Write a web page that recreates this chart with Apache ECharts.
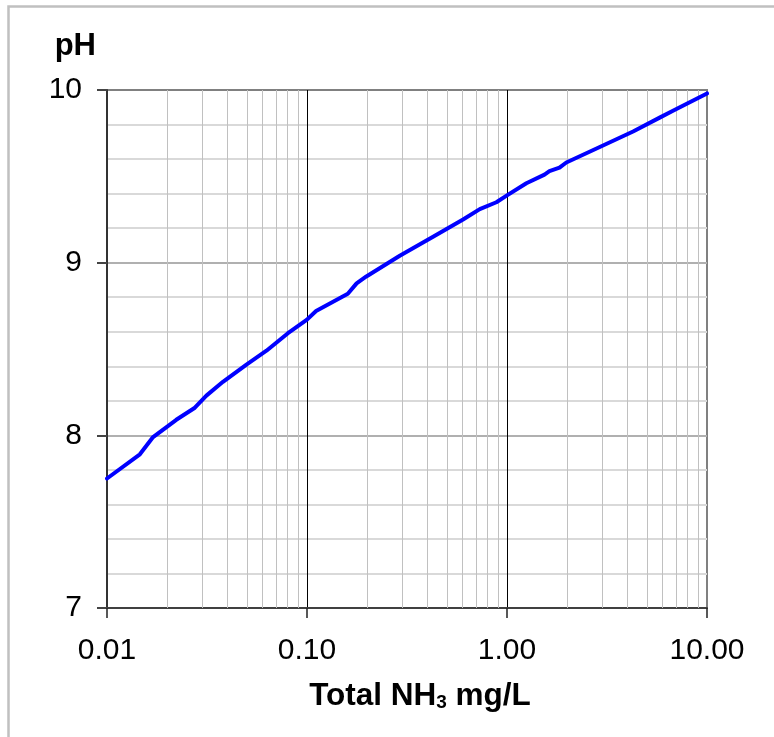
<!DOCTYPE html>
<html>
<head>
<meta charset="utf-8">
<script src="https://cdn.jsdelivr.net/npm/echarts@6/dist/echarts.min.js"></script>
<style>
html,body{margin:0;padding:0;background:#fff;}
#chart{width:774px;height:737px;}
</style>
</head>
<body>
<div id="chart"></div>
<script>
// Total NH3 (mg/L) values
var nh3 = [0.01, 0.0146, 0.017, 0.0222, 0.0275, 0.0314, 0.038, 0.0498, 0.0627, 0.08, 0.1, 0.111, 0.16, 0.177, 0.198, 0.291, 0.427, 0.603, 0.731, 0.885, 1.0, 1.25, 1.54, 1.63, 1.83, 1.98, 2.91, 4.27, 5.8, 6.76, 10];
// pH values
var ph = [7.75, 7.89, 7.99, 8.09, 8.16, 8.23, 8.31, 8.41, 8.49, 8.59, 8.67, 8.72, 8.82, 8.88, 8.92, 9.04, 9.15, 9.25, 9.31, 9.35, 9.39, 9.46, 9.51, 9.53, 9.55, 9.58, 9.67, 9.76, 9.84, 9.88, 9.98];
// minor vertical gridline positions on the log axis
var minorX = [0.02, 0.03, 0.04, 0.05, 0.06, 0.07, 0.08, 0.09,
              0.2, 0.3, 0.4, 0.5, 0.6, 0.7, 0.8, 0.9,
              2, 3, 4, 5, 6, 7, 8, 9];
var xMin = 0.01, xMax = 10;
var yMin = 7, yMax = 10, yInterval = 1;

var FONT = '"Liberation Sans", Arial, sans-serif';
var chart = echarts.init(document.getElementById('chart'), null, {renderer: 'canvas'});

var pts = nh3.map(function (x, i) { return [x, ph[i]]; });

var option = {
  backgroundColor: '#ffffff',
  animation: false,
  graphic: [{
    type: 'rect',
    shape: {x: 8.5, y: 6.5, width: 900, height: 900},
    style: {fill: 'none', stroke: '#c0c0c0', lineWidth: 2.5},
    silent: true
  }],
  grid: {
    left: 107, right: 67, top: 90, bottom: 129,
    show: true, borderColor: '#808080', borderWidth: 2, backgroundColor: 'transparent'
  },
  xAxis: {
    type: 'log', logBase: 10, min: xMin, max: xMax,
    axisLine: {show: true, onZero: false, lineStyle: {color: '#404040', width: 2}},
    axisTick: {show: true, length: 10, inside: false, lineStyle: {color: '#222', width: 1.5}},
    axisLabel: {
      show: true, margin: 28, color: '#000', fontSize: 30, fontFamily: FONT,
      formatter: function (v) { return Number(v).toFixed(2); }
    },
    splitLine: {show: true, showMinLine: false, showMaxLine: false, lineStyle: {color: '#000', width: 1}},
    minorTick: {show: false},
    name: '{b|Total NH}{s|3}{b| mg/L}',
    nameLocation: 'middle',
    nameGap: 72,
    nameTextStyle: {
      padding: [0, 0, 0, 26],
      rich: {
        b: {fontSize: 31.5, fontWeight: 'bold', fontFamily: FONT, color: '#000'},
        s: {fontSize: 19, fontWeight: 'bold', fontFamily: FONT, color: '#000', verticalAlign: 'bottom'}
      }
    }
  },
  yAxis: {
    type: 'value', min: yMin, max: yMax, interval: yInterval,
    axisLine: {show: true, onZero: false, lineStyle: {color: '#333', width: 2}},
    axisTick: {show: true, length: 10, inside: false, lineStyle: {color: '#444', width: 2}},
    axisLabel: {show: true, margin: 25, color: '#000', fontSize: 30, fontFamily: FONT},
    splitLine: {show: true, showMinLine: false, showMaxLine: false, lineStyle: {color: '#b0b0b0', width: 2}},
    minorTick: {show: false, splitNumber: 5},
    minorSplitLine: {show: true, lineStyle: {color: '#d9d9d9', width: 2}},
    name: 'pH',
    nameLocation: 'end',
    nameGap: 28,
    nameTextStyle: {
      fontSize: 31, fontWeight: 'bold', fontFamily: FONT, color: '#000',
      align: 'right', verticalAlign: 'bottom', padding: [0, 11, 0, 0]
    }
  },
  series: [
    {
      type: 'line', data: [], z: 1, silent: true,
      markLine: {
        silent: true, symbol: ['none', 'none'], animation: false,
        label: {show: false},
        lineStyle: {color: '#c0c0c0', width: 1, type: 'solid'},
        emphasis: {disabled: true},
        data: minorX.map(function (v) { return {xAxis: v}; })
      }
    },
    {
      type: 'line', data: pts, z: 5,
      showSymbol: false, symbol: 'none', smooth: false,
      lineStyle: {color: '#0000ff', width: 4, join: 'round', cap: 'round'},
      itemStyle: {color: '#0000ff'}
    }
  ]
};
chart.setOption(option);
</script>
</body>
</html>
